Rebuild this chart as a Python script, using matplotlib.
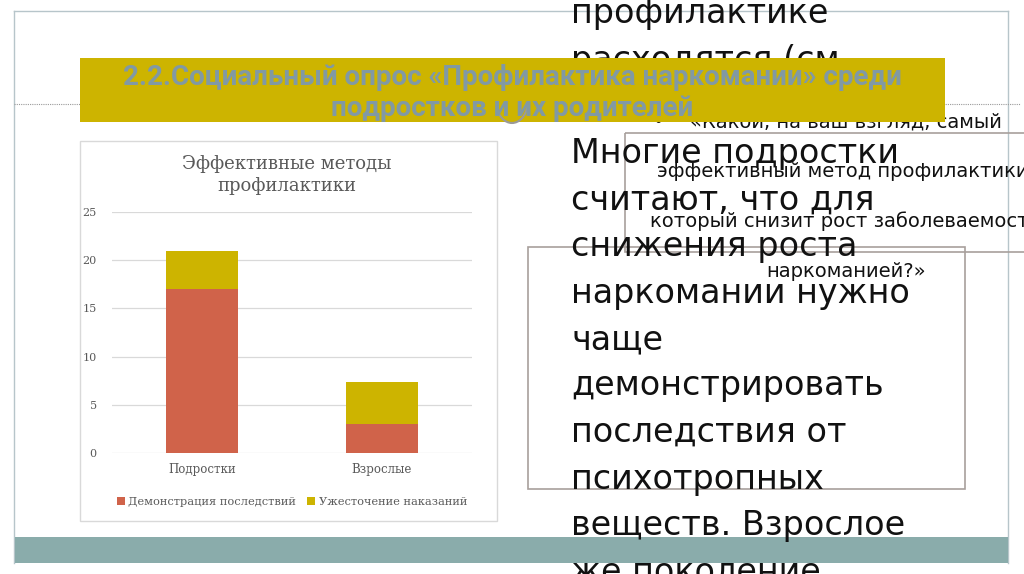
import numpy as np
import matplotlib
matplotlib.use("Agg")
import matplotlib.pyplot as plt
from matplotlib.patches import Rectangle, Arc

# chart data
groups = ["Подростки", "Взрослые"]
demo = [17, 3]          # Демонстрация последствий
strict = [4, 4.35]      # Ужесточение наказаний
series_names = ["Демонстрация последствий", "Ужесточение наказаний"]
chart_title = "Эффективные методы\nпрофилактики"
yticks = [0, 5, 10, 15, 20, 25]

slide_title = "2.2.Социальный опрос «Профилактика наркомании» среди\nподростков и их родителей"
big_lines = ["профилактике", "расходятся (см", "", "Многие подростки", "считают, что для",
             "снижения роста", "наркомании нужно", "чаще", "демонстрировать",
             "последствия от", "психотропных", "веществ. Взрослое", "же поколение"]
small_lines = ["«Какой, на ваш взгляд, самый", "эффективный метод профилактики,",
               "который снизит рост заболеваемости", "наркоманией?»"]

red = "#d0634a"
yellow = "#cdb400"
grey_txt = "#595959"

fig = plt.figure(figsize=(10.24, 5.74), dpi=100)
fig.patch.set_facecolor("white")

# background layer in pixel coordinates
bg = fig.add_axes([0, 0, 1, 1], zorder=0)
bg.set_xlim(0, 1024)
bg.set_ylim(574, 0)
bg.axis("off")
frame_c = "#b7c5ca"
bg.plot([14, 1008], [11, 11], color=frame_c, lw=1)
bg.plot([14, 14], [11, 563], color=frame_c, lw=1)
bg.plot([1008, 1008], [11, 563], color=frame_c, lw=1)
bg.plot([14, 1020], [104, 104], color="#9a9a9a", lw=0.8, ls=(0, (1, 1)))
bg.add_patch(Rectangle((80, 141), 417, 380, fc="white", ec="#d9d9d9", lw=1))
bg.text(287, 175, chart_title, ha="center", va="center", fontsize=13,
        family="DejaVu Serif", color=grey_txt, linespacing=1.3)

# the chart itself
ax = fig.add_axes([112 / 1024, 1 - 453 / 574, 360 / 1024, (453 - 212) / 574], zorder=1)
ax.patch.set_alpha(0)
x = np.arange(len(groups))
ax.bar(x, demo, width=0.4, color=red, label=series_names[0], zorder=2)
ax.bar(x, strict, width=0.4, bottom=demo, color=yellow, label=series_names[1], zorder=2)
ax.set_xlim(-0.5, 1.5)
ax.set_ylim(0, 25)
ax.set_yticks(yticks)
ax.set_xticks(x)
ax.set_xticklabels(groups)
ax.yaxis.grid(True, color="#d9d9d9", lw=0.9, zorder=0)
for s in ax.spines.values():
    s.set_visible(False)
ax.tick_params(length=0, colors=grey_txt, labelsize=8.5, pad=7)
ax.tick_params(axis="y", labelsize=8, pad=11)
for lab in ax.get_xticklabels() + ax.get_yticklabels():
    lab.set_family("DejaVu Serif")
leg = fig.legend(loc="center", bbox_to_anchor=(292 / 1024, 1 - 502 / 574), ncol=2,
                 frameon=False, handlelength=0.7, handleheight=0.7, handletextpad=0.3,
                 columnspacing=1.0, prop={"family": "DejaVu Serif", "size": 8.2})
for t in leg.get_texts():
    t.set_color(grey_txt)

# foreground layer
fg = fig.add_axes([0, 0, 1, 1], zorder=3)
fg.patch.set_alpha(0)
fg.set_xlim(0, 1024)
fg.set_ylim(574, 0)
fg.axis("off")
fg.add_patch(Rectangle((15, 537), 993, 26, fc="#8aacab", ec="none", zorder=1))
box_c = "#a8a09c"
fg.add_patch(Rectangle((625, 133), 410, 119, fill=False, ec=box_c, lw=1.2, zorder=2))
fg.add_patch(Rectangle((528, 247), 437, 242, fill=False, ec=box_c, lw=1.2, zorder=2))

for i, line in enumerate(big_lines):
    fg.text(571, 23.5 + 46.5 * i, line, fontsize=24, family="DejaVu Sans",
            color="#111111", va="baseline", ha="left", zorder=3)

for i, line in enumerate(small_lines):
    fg.text(846, 127 + 50 * i, line, fontsize=14, family="DejaVu Sans",
            color="#111111", va="baseline", ha="center", zorder=3)
fg.text(658, 127, "•", fontsize=14, family="DejaVu Sans", color="#111111",
        va="baseline", ha="center", zorder=3)

fg.add_patch(Rectangle((80, 58), 865, 64, fc=yellow, ec="none", zorder=5))
fg.add_patch(Arc((512, 101), 32, 44, theta1=20, theta2=160, color="#9a9a9a", lw=1.5, zorder=5))
fg.text(512, 93, slide_title, ha="center", va="center", fontsize=20, fontweight="bold",
        family=["Roboto", "DejaVu Sans"], color="#8199a4",
        linespacing=1.15, zorder=6)

fig.savefig("out.png", dpi=100)
